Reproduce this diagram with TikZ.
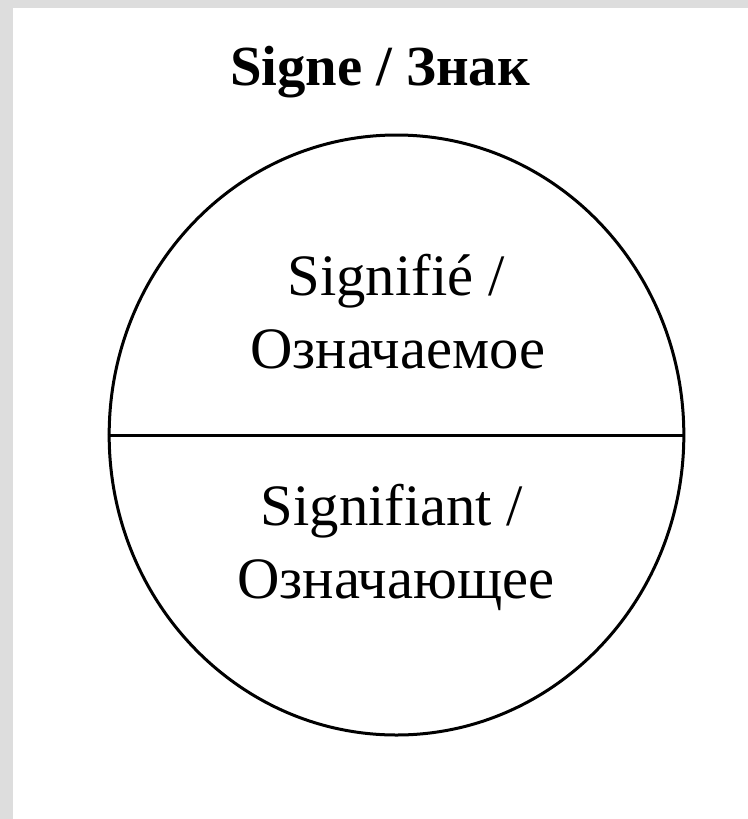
\documentclass[tikz,border=0pt]{standalone}
\usepackage{fontspec}
\setmainfont{Liberation Serif}
\usepackage{tikz}
\usetikzlibrary{shapes.geometric, positioning}
\definecolor{frameGray}{HTML}{DDDDDD}
\tikzset{
    signShape/.style={ellipse, draw=black, line width=2.25pt, inner sep=0pt,
        minimum width=431pt, minimum height=450pt},
    splitLine/.style={line width=2.25pt},
    titleText/.style={anchor=base, inner sep=0pt, font=\fontsize{42.5}{51}\selectfont\bfseries},
    partText/.style={anchor=base, inner sep=0pt, font=\fontsize{44}{53}\selectfont}
}
\begin{document}
\begin{tikzpicture}[x=0.75pt, y=-0.75pt]

        % --- Frame ---
        \useasboundingbox (0,0) rectangle (748,819);
        \fill[frameGray] (0,0) rectangle (748,819);
        \fill[white] (13,8) rectangle (748,819);

        % --- Title ---
        \node[titleText] (title) at (380,85) {Signe / Знак};

        % --- Sign with its two halves ---
        \node[signShape] (sign) at (396.5,435) {};
        \draw[splitLine] (sign.west) -- (sign.east);

        % --- Upper half ---
        \node[partText] (signifieA) at (396,295) {Signifié /};
        \node[partText] (signifieB) at (398,368) {Означаемое};

        % --- Lower half ---
        \node[partText] (signifiantA) at (392,525) {Signifiant /};
        \node[partText] (signifiantB) at (396,598) {Означающее};

    \end{tikzpicture}
\end{document}
